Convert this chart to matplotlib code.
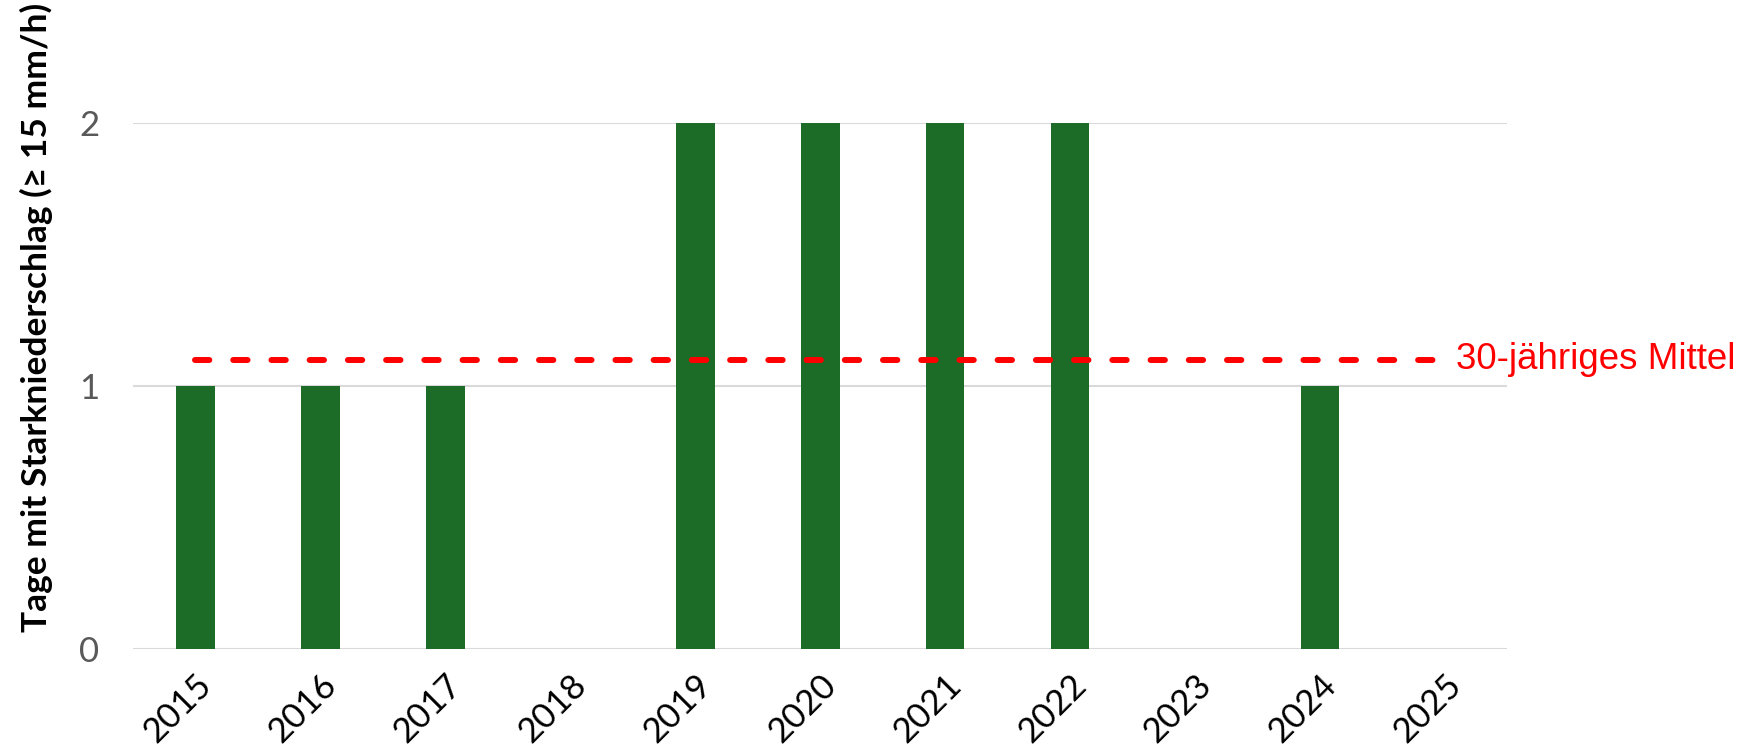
import matplotlib.pyplot as plt

# Starkniederschlagstage pro Jahr
years = ['2015', '2016', '2017', '2018', '2019', '2020',
         '2021', '2022', '2023', '2024', '2025']
days = [1, 1, 1, 0, 2, 2, 2, 2, 0, 1, 0]
mean_30y = 1.1
mean_label = '30-jähriges Mittel'

fig = plt.figure(figsize=(17.63, 7.51), dpi=100)
ax = fig.add_axes([0.0754, 0.136, 0.7796, 0.700])

x = list(range(len(years)))
ax.bar(x, days, width=0.31, color='#1c6b26', zorder=3)

# 30-year mean line
ax.plot([0, len(years) - 1], [mean_30y, mean_30y], color='#ff0000',
        linewidth=4.3, dashes=(2.4, 4.0), dash_capstyle='round', zorder=4)
ax.text(len(years) - 1 + 0.09, mean_30y, mean_label, color='#ff0000',
        fontsize=26.5, family='Liberation Sans', va='center', ha='left')

ax.set_xlim(-0.5, len(years) - 0.5)
ax.set_ylim(0, 2)
ax.set_yticks([0, 1, 2])
ax.yaxis.grid(True, color='#d9d9d9', linewidth=1.5, zorder=0)
ax.set_axisbelow(True)

for s in ['top', 'right', 'left', 'bottom']:
    ax.spines[s].set_visible(False)
ax.tick_params(axis='both', length=0)
ax.tick_params(axis='y', pad=24, labelsize=25, labelcolor='#595959')

ax.set_xticks(x)
ax.set_xticklabels(years, rotation=45, ha='right', rotation_mode='anchor',
                   fontsize=25, family='Lato')
ax.tick_params(axis='x', pad=14)
for lab in ax.get_yticklabels():
    lab.set_family('Lato')

ax.set_ylabel('Tage mit Starkniederschlag (≥ 15 mm/h)', fontsize=25.5,
              fontweight='bold', family=['Lato', 'DejaVu Sans'])
ax.yaxis.set_label_coords(-0.058, 0.63)

fig.savefig('out.png', dpi=100)
